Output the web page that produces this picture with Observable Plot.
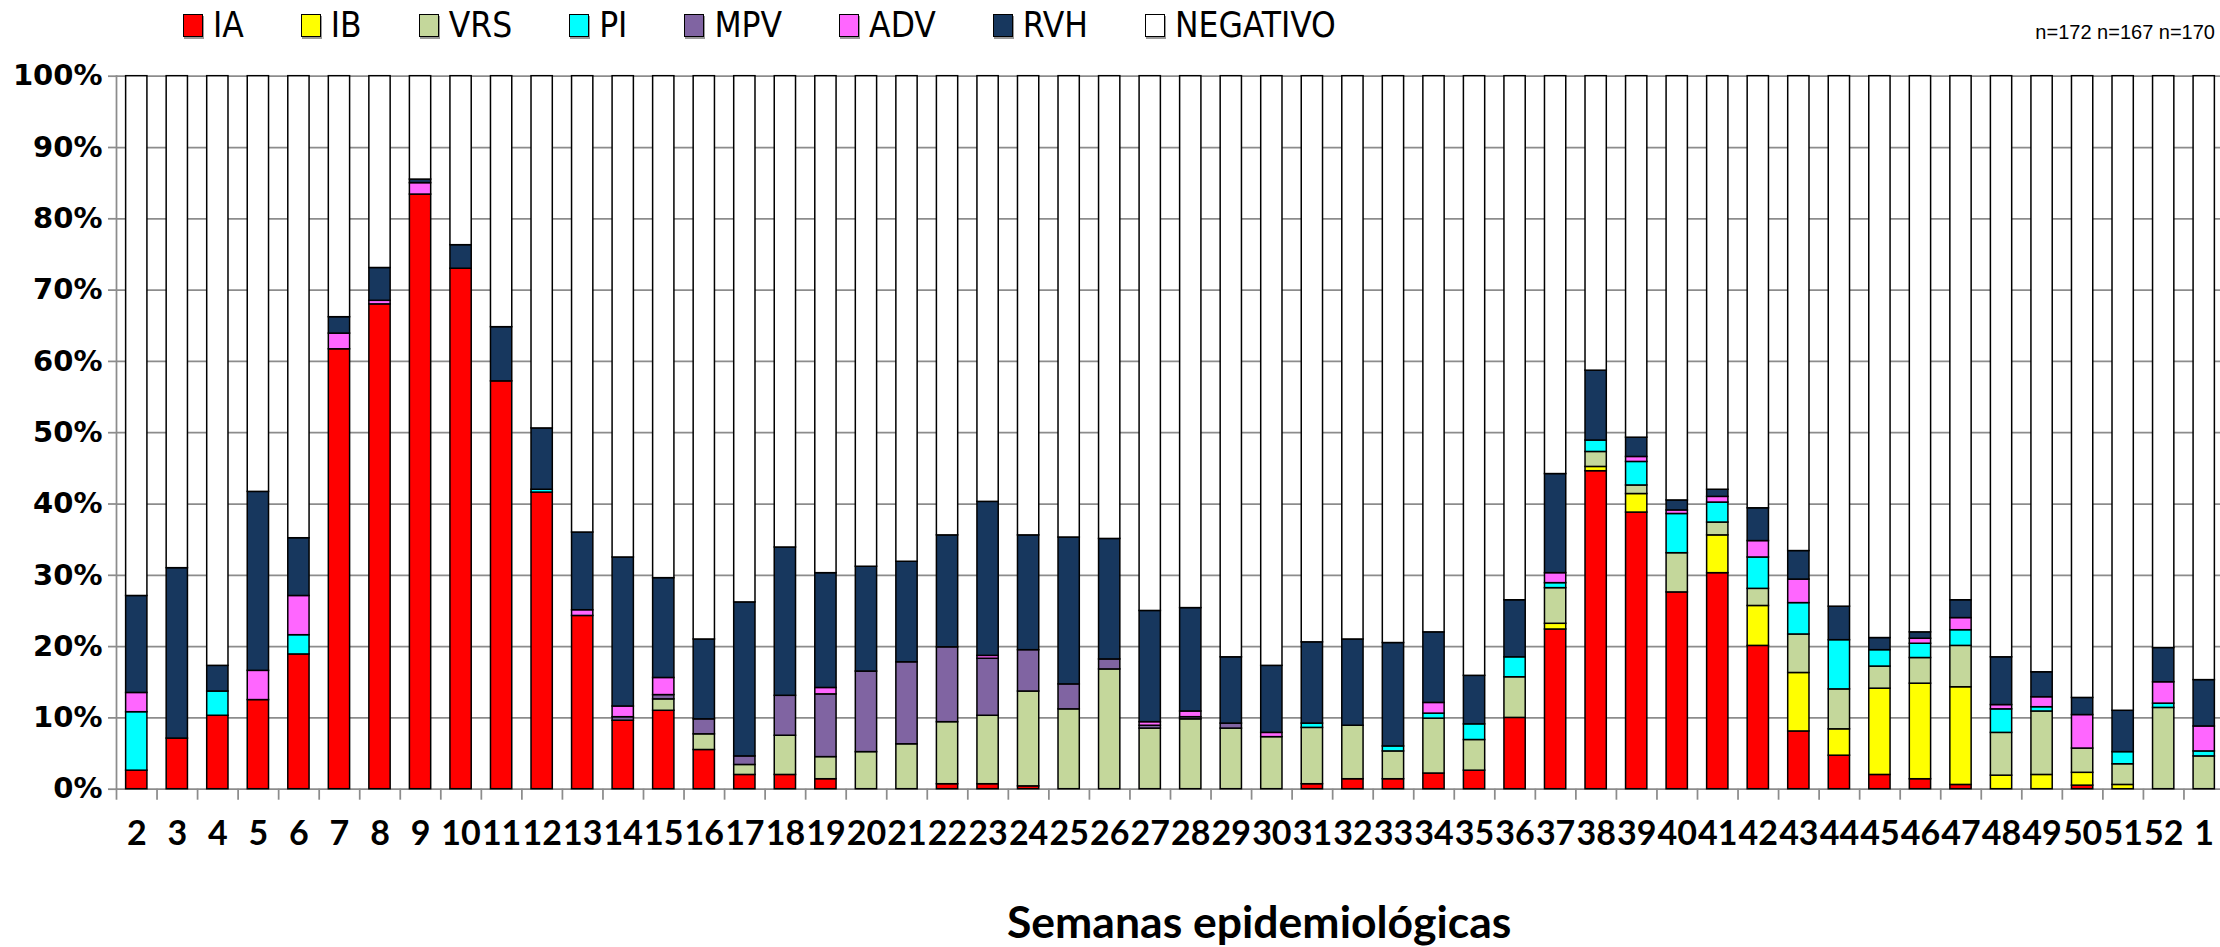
<!DOCTYPE html>
<html><head><meta charset="utf-8">
<script src="https://cdn.jsdelivr.net/npm/d3@7"></script>
<script src="https://cdn.jsdelivr.net/npm/@observablehq/plot@0.6"></script>
<style>
html,body{margin:0;padding:0;background:#fff;width:2220px;height:947px;overflow:hidden}
#legend{position:relative;height:50px;width:2220px}
#items{position:absolute;left:183px;top:8px;display:flex;gap:57px;font-family:"Liberation Sans Narrow","DejaVu Sans Condensed",sans-serif;font-size:35px;line-height:1;color:#000}
.item{display:flex;align-items:center}
.sw{width:20px;height:23px;border:1.5px solid #000;box-shadow:1px 2px 0 #999;margin-right:10px;box-sizing:border-box}
#n{position:absolute;right:5px;top:22px;font-family:"Liberation Sans",Arial,sans-serif;font-size:20px;line-height:1;color:#000}
#title{height:77px;position:relative;width:2220px}
#title span{position:absolute;left:1007px;top:29px;font-family:Lato,sans-serif;font-weight:bold;font-size:44.5px;line-height:1;white-space:nowrap;color:#000}
</style></head>
<body>
<div id="legend"><div id="items"></div><div id="n"></div></div>
<div id="chart"></div>
<div id="title"><span></span></div>
<script>
const weeks = ["2","3","4","5","6","7","8","9","10","11","12","13","14","15","16","17","18","19","20","21","22","23","24","25","26","27","28","29","30","31","32","33","34","35","36","37","38","39","40","41","42","43","44","45","46","47","48","49","50","51","52","1"];
const series = ["IA","IB","VRS","PI","MPV","ADV","RVH","NEGATIVO"];
const colors = ["#FF0000","#FFFF00","#C4D79B","#00FFFF","#8064A2","#FF66FF","#17375E","#FFFFFF"];
//            2    3    4    5    6    7    8    9    10   11   12   13   14   15   16   17   18   19   20   21   22   23   24   25   26   27   28   29   30   31   32   33   34   35   36   37   38   39   40   41   42   43   44   45   46   47   48   49   50   51   52   1
const IA  = [2.6, 7.1,10.3,12.5,18.9,61.7,68.0,83.4,73.0,57.2,41.6,24.3, 9.6,11.0, 5.5, 2.0, 2.0, 1.4, 0,   0,   0.7, 0.7, 0.4, 0,   0,   0,   0,   0,   0,   0.7, 1.4, 1.4, 2.2, 2.6,10.0,22.4,44.6,38.8,27.6,30.3,20.1, 8.1, 4.7, 2.0, 1.4, 0.6, 0,   0,   0.5, 0,   0,   0];
const IB  = [0,   0,   0,   0,   0,   0,   0,   0,   0,   0,   0,   0,   0,   0,   0,   0,   0,   0,   0,   0,   0,   0,   0,   0,   0,   0,   0,   0,   0,   0,   0,   0,   0,   0,   0,   0.8, 0.6, 2.6, 0,   5.3, 5.6, 8.2, 3.7,12.1,13.4,13.7, 1.9, 2.0, 1.8, 0.6, 0,   0];
const VRS = [0,   0,   0,   0,   0,   0,   0,   0,   0,   0,   0,   0,   0,   1.6, 2.2, 1.4, 5.5, 3.1, 5.2, 6.3, 8.7, 9.6,13.3,11.2,16.8, 8.5, 9.8, 8.5, 7.3, 7.9, 7.5, 3.9, 7.7, 4.3, 5.7, 5.0, 2.1, 1.2, 5.5, 1.8, 2.4, 5.4, 5.6, 3.1, 3.6, 5.8, 6.0, 8.9, 3.4, 2.9,11.4, 4.6];
const PI  = [8.2, 0,   3.4, 0,   2.7, 0,   0,   0,   0,   0,   0.4, 0,   0,   0,   0,   0,   0,   0,   0,   0,   0,   0,   0,   0,   0,   0,   0,   0,   0,   0.6, 0,   0.7, 0.7, 2.2, 2.8, 0.7, 1.6, 3.3, 5.5, 2.8, 4.4, 4.4, 6.9, 2.3, 2.0, 2.2, 3.3, 0.6, 0,   1.7, 0.6, 0.7];
const MPV = [0,   0,   0,   0,   0,   0,   0,   0,   0,   0,   0,   0,   0.5, 0.6, 2.1, 1.2, 5.6, 8.8,11.3,11.5,10.5, 8.0, 5.8, 3.5, 1.4, 0.4, 0.3, 0.7, 0,   0,   0,   0,   0,   0,   0,   0,   0,   0,   0,   0,   0,   0,   0,   0,   0,   0,   0,   0,   0,   0,   0,   0];
const ADV = [2.7, 0,   0,   4.1, 5.5, 2.2, 0.5, 1.6, 0,   0,   0,   0.8, 1.5, 2.4, 0,   0,   0,   0.9, 0,   0,   0,   0.4, 0,   0,   0,   0.5, 0.8, 0,   0.6, 0,   0,   0,   1.5, 0,   0,   1.4, 0,   0.7, 0.5, 0.8, 2.3, 3.3, 0,   0,   0.7, 1.7, 0.6, 1.4, 4.7, 0,   3.0, 3.5];
const RVH = [13.6,23.9,3.6,25.1, 8.1, 2.3, 4.6, 0.5, 3.3, 7.6, 8.6,10.9,20.9,14.0,11.2,21.6,20.8,16.1,14.7,14.1,15.7,21.6,16.1,20.6,16.9,15.6,14.5, 9.3, 9.4,11.4,12.1,14.5, 9.9, 6.8, 8.0,13.9, 9.8, 2.7, 1.4, 1.0, 4.6, 4.0, 4.7, 1.7, 0.9, 2.5, 6.7, 3.5, 2.4, 5.8, 4.8, 6.5];
const NEGATIVO = [72.9,69.0,82.7,58.3,64.8,33.8,26.9,14.5,23.7,35.2,49.4,64.0,67.5,70.4,79.0,73.8,66.1,69.7,68.8,68.1,64.4,59.7,64.4,64.7,64.9,75.0,74.6,81.5,82.7,79.4,79.0,79.5,78.0,84.1,73.5,55.8,41.3,50.7,59.5,58.0,60.6,66.6,74.4,78.8,78.0,73.5,81.5,83.6,87.2,89.0,80.2,84.7];
const nLabels = ["n=172","n=167","n=170"];
const yTicks = [0,10,20,30,40,50,60,70,80,90,100];
const xTitle = "Semanas epidemiológicas";

const values = {IA, IB, VRS, PI, MPV, ADV, RVH, NEGATIVO};
const data = [];
for (const s of series) weeks.forEach((w, i) => { const v = values[s][i]; if (v > 0) data.push({week: w, series: s, value: v}); });

// legend
const items = document.getElementById("items");
series.forEach((s, i) => {
  const it = document.createElement("div"); it.className = "item";
  const sw = document.createElement("div"); sw.className = "sw"; sw.style.background = colors[i];
  const t = document.createElement("span"); t.textContent = s;
  it.appendChild(sw); it.appendChild(t); items.appendChild(it);
});
document.getElementById("n").textContent = nLabels.join(" ");
document.querySelector("#title span").textContent = xTitle;

const W = 2220, H = 820, ML = 116, MR = -4, MT = 25.7, MB = 81.3;
const step = (W - ML - MR) / weeks.length;
const grid = "#8c8c8c";

const chart = Plot.plot({
  width: W, height: H,
  marginLeft: ML, marginRight: MR, marginTop: MT, marginBottom: MB,
  style: {background: "white", overflow: "visible"},
  x: {type: "band", domain: weeks, paddingInner: 0.475, paddingOuter: 0.2375, round: false, label: null},
  y: {domain: [0, 100], label: null},
  color: {domain: series, range: colors},
  marks: [
    Plot.gridY(yTicks, {stroke: grid, strokeOpacity: 1, strokeWidth: 1.75}),
    Plot.frame({anchor: "left", stroke: grid, strokeWidth: 1.75}),
    Plot.axisY(yTicks, {tickSize: 8, tickPadding: 6, tickFormat: d => d + "%", stroke: grid, strokeWidth: 1.75, fill: "black",
      fontSize: 29, fontWeight: "bold", fontFamily: "DejaVu Sans", label: null}),
    Plot.axisX({tickSize: 11, tickFormat: () => "", dx: -step / 2, stroke: grid, strokeWidth: 1.75, label: null}),
    Plot.axisX({tickSize: 0, tickPadding: 32, fill: "black", fontSize: 34, fontWeight: "bold", fontFamily: "Lato", label: null}),
    Plot.barY(data, Plot.stackY({x: "week", y: "value", fill: "series", z: "series", order: series,
      stroke: "black", strokeWidth: 1.5}))
  ]
});
document.getElementById("chart").appendChild(chart);
</script>
</body></html>
